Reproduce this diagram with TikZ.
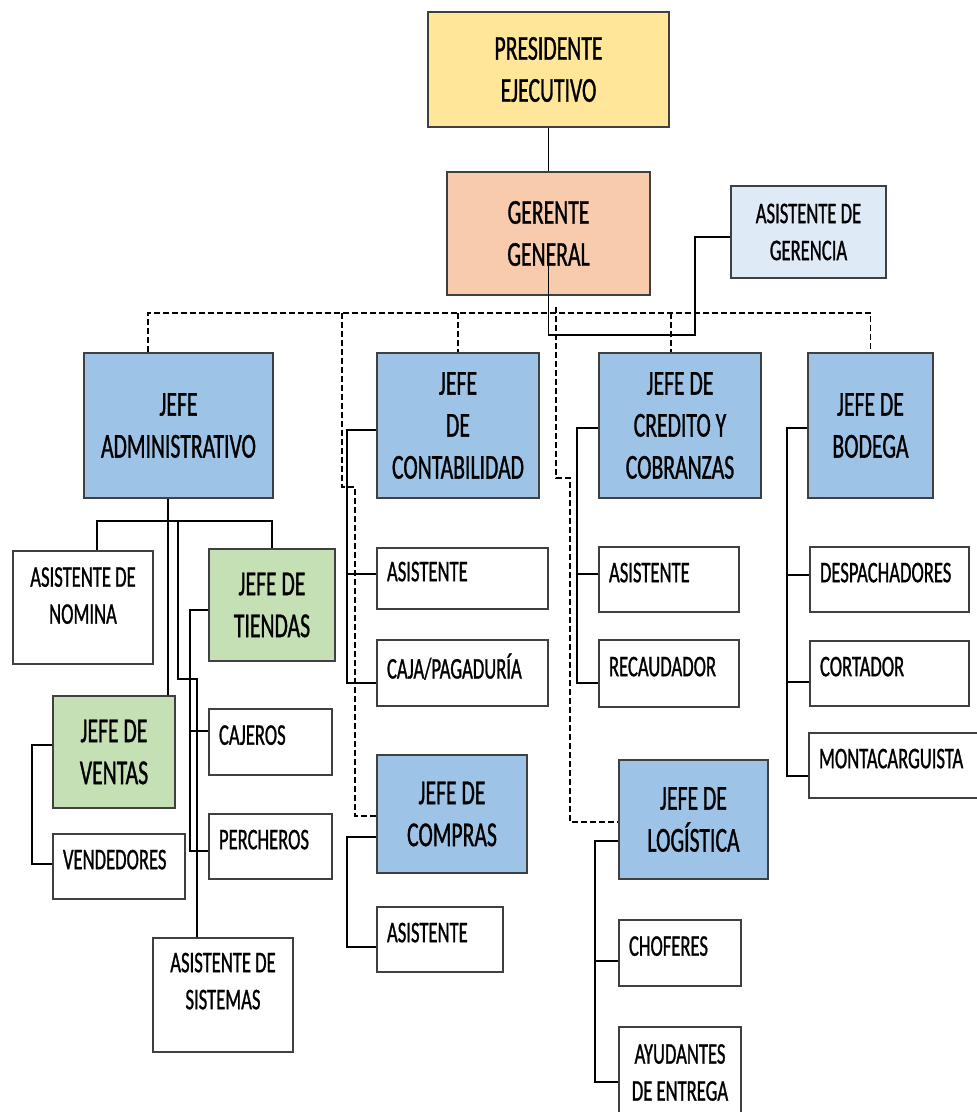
\documentclass[tikz,border=0pt]{standalone}
\usepackage{fontspec}
\usepackage{xcolor}
\usepackage{tikz}
\newfontfamily\orgfont[FakeStretch=0.62, FakeBold=0.9]{Carlito}
\definecolor{presyellow}{HTML}{FFE699}
\definecolor{gerpeach}{HTML}{F8CBAD}
\definecolor{asgblue}{HTML}{DEEBF7}
\definecolor{jefeblue}{HTML}{9DC3E6}
\definecolor{jefegreen}{HTML}{C5E0B4}

\begin{document}
\begin{tikzpicture}[x=1pt, y=-1pt,
      chief/.style={rectangle, draw=black!75, line width=1.8pt, align=center, inner sep=2pt, font=\orgfont\fontsize{35}{42}\selectfont},
      minor/.style={chief, fill=white, font=\orgfont\fontsize{30}{37}\selectfont},
      staff/.style={rectangle, draw=black!75, line width=1.8pt, fill=white, inner xsep=10pt, inner ysep=0pt, text width=#1, text depth=14pt, align=left, font=\orgfont\fontsize{30}{37}\selectfont},
      line/.style={draw, line width=1.6pt},
      dashline/.style={draw, line width=1.5pt, dash pattern=on 6pt off 3pt}]
      \useasboundingbox (0,0) rectangle (977,1112);

      % Nodes
      \node [chief, fill=presyellow, minimum width=241pt, minimum height=115pt] (pres) at (548.5,69.5) {PRESIDENTE\\EJECUTIVO};
      \node [chief, fill=gerpeach, minimum width=203pt, minimum height=123pt] (ger) at (548.5,233.5) {GERENTE\\GENERAL};
      \node [minor, fill=asgblue, minimum width=155pt, minimum height=92pt] (asg) at (808.5,232) {ASISTENTE DE\\GERENCIA};
      \node [chief, fill=jefeblue, minimum width=189pt, minimum height=145pt] (adm) at (178.5,425.5) {JEFE\\ADMINISTRATIVO};
      \node [chief, fill=jefeblue, minimum width=162pt, minimum height=145pt] (cont) at (458,425.5) {JEFE\\DE\\CONTABILIDAD};
      \node [chief, fill=jefeblue, minimum width=162pt, minimum height=145pt] (cred) at (680,425.5) {JEFE DE\\CREDITO Y\\COBRANZAS};
      \node [chief, fill=jefeblue, minimum width=125pt, minimum height=145pt] (bod) at (870.5,425.5) {JEFE DE\\BODEGA};
      \node [minor, text depth=24pt, minimum width=140pt, minimum height=113pt] (nom) at (83,607.5) {ASISTENTE DE\\NOMINA};
      \node [chief, fill=jefegreen, minimum width=126pt, minimum height=112pt] (tie) at (272,605) {JEFE DE\\TIENDAS};
      \node [chief, fill=jefegreen, minimum width=122pt, minimum height=112pt] (ven) at (114,752) {JEFE DE\\VENTAS};
      \node [staff=103pt, minimum height=66pt] (caj) at (270.5,742) {CAJEROS};
      \node [staff=103pt, minimum height=65pt] (per) at (270.5,846.5) {PERCHEROS};
      \node [staff=112pt, minimum height=65pt] (vnd) at (119,866.5) {VENDEDORES};
      \node [minor, text depth=28pt, minimum width=140pt, minimum height=114pt] (sis) at (223,995) {ASISTENTE DE\\SISTEMAS};
      \node [staff=151pt, minimum height=61pt] (ca1) at (462.5,578.5) {ASISTENTE};
      \node [staff=151pt, minimum height=66pt] (caja) at (462.5,673) {CAJA/PAGADURÍA};
      \node [chief, fill=jefeblue, minimum width=150pt, minimum height=118pt] (com) at (452,814) {JEFE DE\\COMPRAS};
      \node [staff=106pt, minimum height=65pt] (ca2) at (440,939.5) {ASISTENTE};
      \node [staff=120pt, minimum height=65pt] (cr1) at (669,579.5) {ASISTENTE};
      \node [staff=120pt, minimum height=67pt] (rec) at (669,673.5) {RECAUDADOR};
      \node [staff=139pt, minimum height=65pt] (des) at (889.5,579.5) {DESPACHADORES};
      \node [staff=139pt, minimum height=65pt] (cor) at (889.5,673.5) {CORTADOR};
      \node [staff=151pt, minimum height=65pt] (mon) at (894.5,765.5) {MONTACARGUISTA};
      \node [chief, fill=jefeblue, minimum width=149pt, minimum height=119pt] (log) at (693.5,819.5) {JEFE DE\\LOGÍSTICA};
      \node [staff=102pt, minimum height=66pt] (cho) at (680,953) {CHOFERES};
      \node [minor, minimum width=122pt, minimum height=91pt] (ayu) at (680,1072.5) {AYUDANTES\\DE ENTREGA};

      % Edges
      \coordinate (gbend) at (695,335);
      \coordinate (bus) at (0,313);
      \coordinate (cbend) at (342,487);
      \coordinate (ltop) at (556,307);
      \coordinate (lbend) at (556,478);
      \coordinate (abus) at (0,521);
      \coordinate (sbend) at (178,679);
      \path [line] (pres.south) -- (ger.north);
      \path [line] ([yshift=-30pt]ger.center) |- (gbend) |- ([yshift=-5pt]asg.west);
      \path [dashline] ([xshift=-30.5pt]adm.north) |- (bus -| bod.north) -- (bod.north);
      \path [dashline] (bus -| cont.north) -- (cont.north);
      \path [dashline] ([xshift=-9pt]cred.north |- bus) -- ([xshift=-9pt]cred.north);
      \path [dashline] (cbend |- bus) -- (cbend) -- ++(13,0) |- ([yshift=-2pt]com.west);
      \path [dashline] (ltop) -- (lbend) -- ++(14,0) |- ([yshift=-2.5pt]log.west);
      \path [line] ([xshift=-10.5pt]adm.south) -- ([xshift=54pt]ven.north);
      \path [line] ([xshift=14pt]nom.north) |- (tie.north |- abus) -- (tie.north);
      \path [line] (sbend |- abus) -- (sbend) -| ([xshift=-26pt]sis.north);
      \path [line] ([yshift=-5pt]tie.west) -- ++(-18,0) |- ([yshift=-4.5pt]per.west);
      \path [line] ([yshift=11pt]caj.west) -- ++(-18,0);
      \path [line] ([yshift=7pt]ven.west) -- ++(-20,0) |- ([yshift=2.5pt]vnd.west);
      \path [line] ([yshift=-4.5pt]cont.west) -- ++(-29,0) |- ([yshift=-10pt]caja.west);
      \path [line] ([yshift=4.5pt]ca1.west) -- ++(-29,0);
      \path [line] ([yshift=-23pt]com.west) -- ++(-29,0) |- ([yshift=-7.5pt]ca2.west);
      \path [line] ([yshift=-2.5pt]cred.west) -- ++(-21,0) |- ([yshift=-9.5pt]rec.west);
      \path [line] ([yshift=5.5pt]cr1.west) -- ++(-21,0);
      \path [line] ([yshift=-2.5pt]bod.west) -- ++(-20,0) |- ([yshift=-10.5pt]mon.west);
      \path [line] ([yshift=4.5pt]des.west) -- ++(-22,0);
      \path [line] ([yshift=-8.5pt]cor.west) -- ++(-22,0);
      \path [line] ([yshift=-21.5pt]log.west) -- ++(-23,0) |- ([yshift=-9.5pt]ayu.west);
      \path [line] ([yshift=-8pt]cho.west) -- ++(-23,0);

    \end{tikzpicture}
\end{document}
